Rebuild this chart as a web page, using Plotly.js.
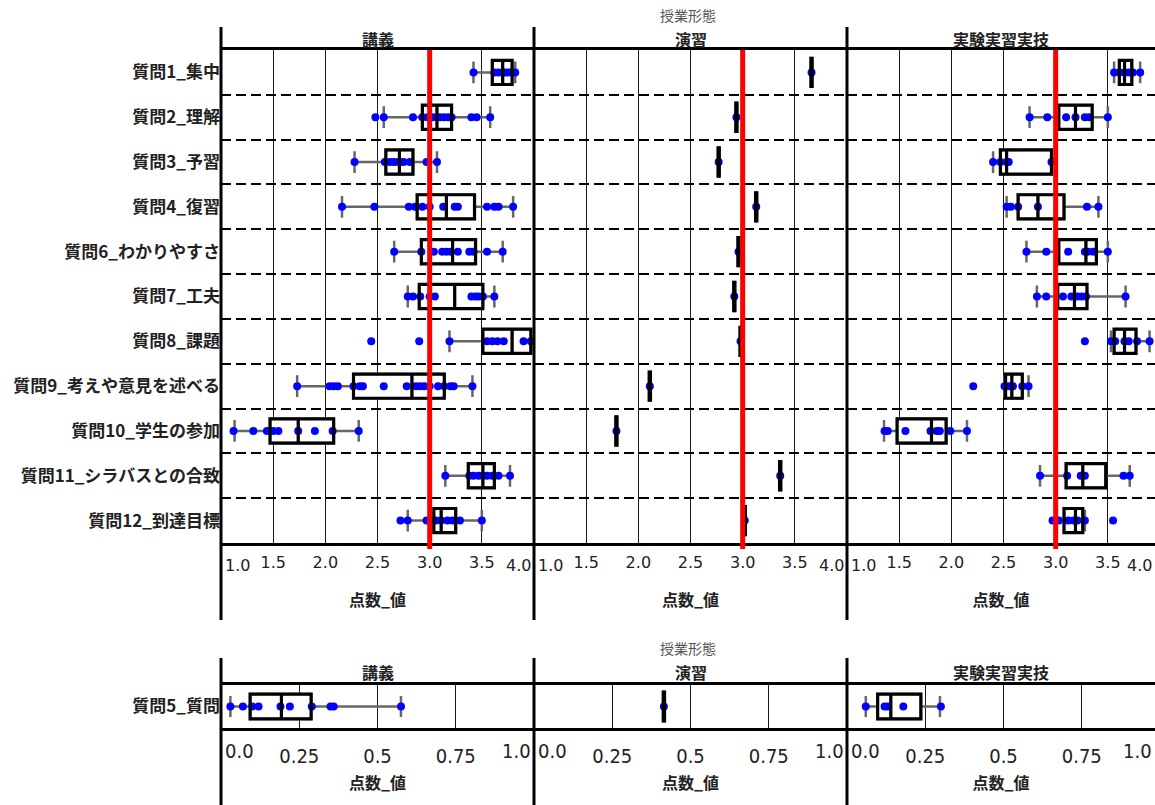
<!DOCTYPE html>
<html><head><meta charset="utf-8">
<script src="https://cdn.plot.ly/plotly-3.0.1.min.js"></script>
<style>html,body{margin:0;padding:0;background:#fff}</style>
</head><body><div id="chart" style="width:1155px;height:805px"></div>
<script>
// ---------- data ----------
const questions = ['質問1_集中','質問2_理解','質問3_予習','質問4_復習','質問6_わかりやすさ','質問7_工夫','質問8_課題','質問9_考えや意見を述べる','質問10_学生の参加','質問11_シラバスとの合致','質問12_到達目標'];
const panels = ['講義','演習','実験実習実技'];
const facetTitle = '授業形態';
const axisTitle = '点数_値';
const topTickVals = [1.5, 2.0, 2.5, 3.0, 3.5];
const topTickText = ['1.5','2.0','2.5','3.0','3.5'];
const botTickVals = [0.25, 0.5, 0.75];
const botTickText = ['0.25','0.5','0.75'];
const refValue = 3.0;

// 講義
const lecQ1  = [3.60, 2.93, 2.58, 2.88, 2.92, 2.90, 3.51, 2.27, 1.47, 3.37, 3.04];
const lecMed = [3.70, 3.07, 2.71, 3.16, 3.22, 3.24, 3.79, 2.83, 1.74, 3.51, 3.11];
const lecQ3  = [3.79, 3.21, 2.84, 3.43, 3.44, 3.51, 3.97, 3.14, 2.08, 3.62, 3.25];
const lecLo  = [3.42, 2.56, 2.28, 2.16, 2.66, 2.79, 3.19, 1.73, 1.13, 3.15, 2.79];
const lecHi  = [3.82, 3.58, 3.07, 3.80, 3.70, 3.62, 3.97, 3.41, 2.32, 3.77, 3.50];
const lecPts = [
  [3.42, 3.62, 3.66, 3.70, 3.72, 3.75, 3.78, 3.82],
  [2.48, 2.56, 2.84, 2.93, 2.98, 3.03, 3.07, 3.10, 3.14, 3.18, 3.21, 3.40, 3.45, 3.58],
  [2.28, 2.57, 2.62, 2.66, 2.70, 2.72, 2.75, 2.81, 2.97, 3.07],
  [2.16, 2.47, 2.80, 2.86, 2.93, 3.00, 3.13, 3.24, 3.27, 3.55, 3.62, 3.66, 3.80],
  [2.66, 2.92, 3.04, 3.12, 3.16, 3.20, 3.27, 3.38, 3.42, 3.55, 3.70],
  [2.79, 2.84, 2.91, 3.00, 3.05, 3.40, 3.44, 3.47, 3.51, 3.62],
  [2.44, 2.90, 3.19, 3.55, 3.60, 3.65, 3.71, 3.90, 3.97],
  [1.73, 2.04, 2.08, 2.12, 2.27, 2.33, 2.36, 2.56, 2.78, 2.87, 2.91, 2.95, 3.00, 3.08, 3.14, 3.20, 3.23, 3.41],
  [1.12, 1.31, 1.44, 1.50, 1.55, 1.74, 1.90, 2.07, 2.32],
  [3.15, 3.38, 3.42, 3.47, 3.51, 3.55, 3.60, 3.66, 3.77],
  [2.72, 2.79, 2.97, 3.00, 3.06, 3.11, 3.17, 3.22, 3.29, 3.50]
];
// 演習 (one value per question)
const exVals = [3.66, 2.94, 2.77, 3.13, 2.96, 2.92, 2.98, 2.11, 1.79, 3.36, 3.02];
// 実験実習実技
const labQ1  = [3.61, 3.03, 2.47, 2.64, 3.03, 3.02, 3.56, 2.52, 1.48, 3.10, 3.08];
const labMed = [3.66, 3.19, 2.53, 2.83, 3.29, 3.18, 3.66, 2.58, 1.81, 3.26, 3.19];
const labQ3  = [3.73, 3.35, 2.96, 3.08, 3.39, 3.30, 3.77, 2.68, 1.95, 3.48, 3.26];
const labLo  = [3.56, 2.75, 2.40, 2.53, 2.72, 2.82, 3.53, 2.51, 1.355, 2.85, 3.08];
const labHi  = [3.81, 3.50, 2.96, 3.41, 3.50, 3.67, 3.90, 2.74, 2.15, 3.71, 3.28];
const labPts = [
  [3.56, 3.61, 3.66, 3.70, 3.74, 3.81],
  [2.75, 2.92, 3.10, 3.19, 3.28, 3.32, 3.50],
  [2.40, 2.47, 2.53, 2.55, 2.96],
  [2.53, 2.57, 2.64, 2.83, 3.30, 3.41],
  [2.72, 2.91, 3.12, 3.28, 3.31, 3.36, 3.50],
  [2.82, 2.91, 3.07, 3.15, 3.21, 3.25, 3.29, 3.67],
  [3.28, 3.53, 3.57, 3.66, 3.70, 3.78, 3.90],
  [2.21, 2.51, 2.55, 2.59, 2.68, 2.74],
  [1.36, 1.39, 1.56, 1.80, 1.86, 1.89, 1.99, 2.15],
  [2.85, 3.11, 3.24, 3.28, 3.65, 3.71],
  [2.97, 3.03, 3.12, 3.17, 3.21, 3.28, 3.55]
];
// 質問5 (separate scale 0..1)
const q5Cat = ['質問5_質問'];
const q5LecStats = {q1:[0.093], med:[0.193], q3:[0.288], lo:[0.03], hi:[0.575]};
const q5LecPts = [[0.03, 0.07, 0.10, 0.12, 0.19, 0.22, 0.29, 0.35, 0.36, 0.575]];
const q5ExVal = [0.415];
const q5LabStats = {q1:[0.098], med:[0.14], q3:[0.236], lo:[0.06], hi:[0.297]};
const q5LabPts = [[0.06, 0.12, 0.13, 0.18, 0.30]];

// ---------- helpers ----------
const W = 1155, H = 805;
const fx = p => p / W;
const fy = p => 1 - p / H;
const CJK = '"Noto Sans CJK JP", "Noto Sans", sans-serif';

function boxTraces(xa, ya, cats, q1, med, q3, lo, hi, pts, w, ww, lw) {
  const common = {type:'box', orientation:'h', xaxis:xa, yaxis:ya, width:w, hoverinfo:'skip', showlegend:false};
  const A = Object.assign({}, common, {y:cats, q1:q1, median:med, q3:q3, lowerfence:lo, upperfence:hi,
    boxpoints:false, line:{color:'#676767', width:2.5}, fillcolor:'#ffffff', whiskerwidth:ww});
  const px = [], py = [];
  pts.forEach((arr, i) => arr.forEach(v => { px.push(v); py.push(cats[i]); }));
  const P = Object.assign({}, common, {x:px, y:py, boxpoints:'all', jitter:0, pointpos:0,
    line:{color:'rgba(0,0,0,0)', width:0}, fillcolor:'rgba(0,0,0,0)', whiskerwidth:0,
    marker:{color:'#0000ff', size:8}});
  const B = Object.assign({}, common, {y:cats, q1:q1, median:med, q3:q3, lowerfence:q1, upperfence:q3,
    boxpoints:false, line:{color:'#000000', width:lw || 3.2}, fillcolor:'rgba(0,0,0,0)', whiskerwidth:0});
  return [A, P, B];
}

const exPts = exVals.map(v => [v]);
const data = [].concat(
  boxTraces('x', 'y', questions, lecQ1, lecMed, lecQ3, lecLo, lecHi, lecPts, 0.54, 0.9),
  boxTraces('x2', 'y', questions, exVals, exVals, exVals, exVals, exVals, exPts, 0.7, 0.9, 4.5),
  boxTraces('x3', 'y', questions, labQ1, labMed, labQ3, labLo, labHi, labPts, 0.54, 0.9),
  boxTraces('x4', 'y2', q5Cat, q5LecStats.q1, q5LecStats.med, q5LecStats.q3, q5LecStats.lo, q5LecStats.hi, q5LecPts, 0.58, 0.85),
  boxTraces('x5', 'y2', q5Cat, q5ExVal, q5ExVal, q5ExVal, q5ExVal, q5ExVal, q5ExVal.map(v=>[v]), 0.74, 0.85, 4.5),
  boxTraces('x6', 'y2', q5Cat, q5LabStats.q1, q5LabStats.med, q5LabStats.q3, q5LabStats.lo, q5LabStats.hi, q5LabPts, 0.58, 0.85)
);

// ---------- layout ----------
const colPx = [[221, 534], [534, 847], [847, 1155]];
const topY = [50, 543], botY = [685, 728];

function xAxis(col, yref, range, tv, tt, tickFont, ticklen, standoff) {
  return {
    domain:[fx(colPx[col][0]), fx(colPx[col][1])], anchor:yref, range:range,
    tickmode:'array', tickvals:tv, ticktext:tt, tickfont:tickFont,
    ticks:'outside', ticklen:ticklen, tickcolor:'rgba(0,0,0,0)',
    showgrid:true, gridcolor:'#1a1a1a', gridwidth:1, zeroline:false,
    showline:true, linecolor:'#000', linewidth:3, mirror:true,
    title:{text:axisTitle, font:{family:CJK, size:16, weight:'bold', color:'#222'}, standoff:standoff},
    automargin:false, fixedrange:true
  };
}
const topTickFont = {family:'"DejaVu Sans", sans-serif', size:16, color:'#222'};
const botTickFont = {family:'"Liberation Sans Narrow", "DejaVu Sans Condensed", sans-serif', size:20, color:'#222'};
const topRange3 = [1, 1 + (1155 - 847) / ((534 - 221) / 3)];
const botRange3 = [0, (1155 - 847) / (534 - 221)];

const layout = {
  width:W, height:H, margin:{l:0, r:0, t:0, b:0},
  paper_bgcolor:'#fff', plot_bgcolor:'#fff', showlegend:false,
  font:{family:CJK, color:'#222'},
  boxmode:'overlay',
  xaxis:  xAxis(0, 'y', [1, 4], topTickVals, topTickText, topTickFont, 3, 24),
  xaxis2: xAxis(1, 'y', [1, 4], topTickVals, topTickText, topTickFont, 3, 24),
  xaxis3: xAxis(2, 'y', topRange3, topTickVals, topTickText, topTickFont, 3, 24),
  xaxis4: xAxis(0, 'y2', [0, 1], botTickVals, botTickText, botTickFont, 8, 11),
  xaxis5: xAxis(1, 'y2', [0, 1], botTickVals, botTickText, botTickFont, 8, 11),
  xaxis6: xAxis(2, 'y2', botRange3, botTickVals, botTickText, botTickFont, 8, 11),
  yaxis: {
    domain:[fy(topY[1]), fy(topY[0])], anchor:'x', type:'category',
    categoryorder:'array', categoryarray:questions, range:[questions.length - 0.5, -0.5],
    tickson:'boundaries', ticks:'outside', ticklen:8, tickcolor:'rgba(0,0,0,0)',
    showgrid:true, gridcolor:'#000', gridwidth:2, griddash:'10px,5px',
    showline:false, zeroline:false, automargin:false, fixedrange:true,
    tickfont:{family:CJK, size:17, weight:'bold', color:'#222'}
  },
  yaxis2: {
    domain:[fy(botY[1]), fy(botY[0])], anchor:'x4', type:'category',
    categoryarray:q5Cat, range:[0.5, -0.5],
    tickson:'boundaries', ticks:'outside', ticklen:8, tickcolor:'rgba(0,0,0,0)',
    showgrid:false, showline:false, zeroline:false, automargin:false, fixedrange:true,
    tickfont:{family:CJK, size:17, weight:'bold', color:'#222'}
  },
  shapes: [],
  annotations: []
};

// reference line at 3.0
['x', 'x2', 'x3'].forEach(xr => layout.shapes.push({type:'line', xref:xr, yref:'y domain',
  x0:refValue, x1:refValue, y0:-0.012, y1:1, line:{color:'#ff0000', width:5}, layer:'above'}));
// panel separators
[221, 534, 847].forEach(p => {
  layout.shapes.push({type:'line', xref:'paper', yref:'paper', x0:fx(p), x1:fx(p), y0:fy(620), y1:fy(27), line:{color:'#000', width:3}, layer:'above'});
  layout.shapes.push({type:'line', xref:'paper', yref:'paper', x0:fx(p), x1:fx(p), y0:0, y1:fy(658), line:{color:'#000', width:3}, layer:'above'});
});

// facet titles and strip labels
function ann(text, xpx, ypx, font, xanchor) {
  layout.annotations.push({text:text, xref:'paper', yref:'paper', x:fx(xpx), y:fy(ypx),
    xanchor:xanchor || 'center', yanchor:'middle', showarrow:false, font:font});
}
const facetFont = {family:CJK, size:14, color:'#555'};
const stripFont = {family:CJK, size:16, weight:'bold', color:'#222'};
ann(facetTitle, 688, 15, facetFont);
ann(facetTitle, 688, 648, facetFont);
panels.forEach((p, i) => {
  const c = (colPx[i][0] + colPx[i][1]) / 2;
  ann(p, c, 39, stripFont);
  ann(p, c, 672, stripFont);
});
// edge tick labels (inside the panel edges)
colPx.forEach((c, i) => {
  ann('1.0', c[0] + 2, 565, topTickFont, 'left');
  ann('4.0', c[1] - 1, 565, topTickFont, 'right');
  ann('0.0', c[0] + 2, 751, botTickFont, 'left');
  ann('1.0', c[1] - 1, 751, botTickFont, 'right');
});

Plotly.newPlot('chart', data, layout, {staticPlot:true, displayModeBar:false});
</script>
</body></html>
